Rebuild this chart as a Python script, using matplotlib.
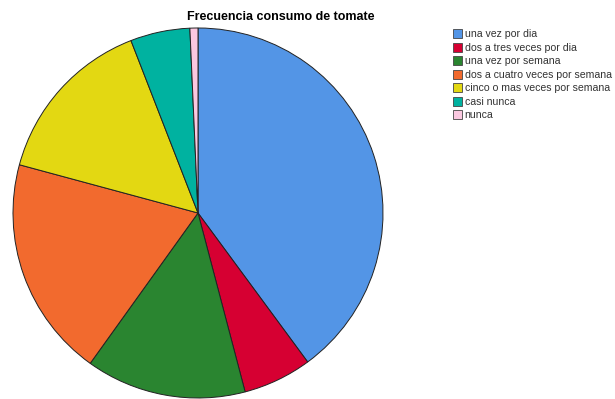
import matplotlib
matplotlib.use("Agg")
import matplotlib.pyplot as plt
from matplotlib.patches import Patch

# Donnees (en %)
categorias = ["una vez por dia", "dos a tres veces por dia", "una vez por semana",
              "dos a cuatro veces por semana", "cinco o mas veces por semana",
              "casi nunca", "nunca"]
porcentajes = [39.9, 6.0, 14.0, 19.3, 14.9, 5.2, 0.7]
colores = ["#5395E6", "#D60032", "#2A8530", "#F26A2E", "#E3D812", "#00B2A0", "#FBC8E0"]

plt.rcParams['font.family'] = ['Liberation Sans', 'DejaVu Sans']

fig = plt.figure(figsize=(6.15, 3.99), dpi=100)
ax = fig.add_axes([13 / 615, 1 / 399, 370 / 615, 370 / 399])
ax.pie(porcentajes, colors=colores, startangle=90, counterclock=False,
       wedgeprops=dict(edgecolor="#222222", linewidth=0.7))
ax.set_aspect("equal")
ax.set_xlim(-1, 1)
ax.set_ylim(-1, 1)

fig.text(281 / 615, 1 - 17 / 399, "Frecuencia consumo de tomate",
         ha="center", va="center", fontsize=9, fontweight="bold")

handles = [Patch(facecolor=c, edgecolor="#444444", linewidth=0.6) for c in colores]
fig.legend(handles, categorias, loc="upper left", bbox_to_anchor=(453 / 615, 1 - 29 / 399),
           frameon=False, fontsize=7.6, handlelength=0.85, handleheight=1.0,
           handletextpad=0.25, labelspacing=0.3, borderaxespad=0, borderpad=0,
           labelcolor="#333333")

fig.savefig("out.png", dpi=100)
